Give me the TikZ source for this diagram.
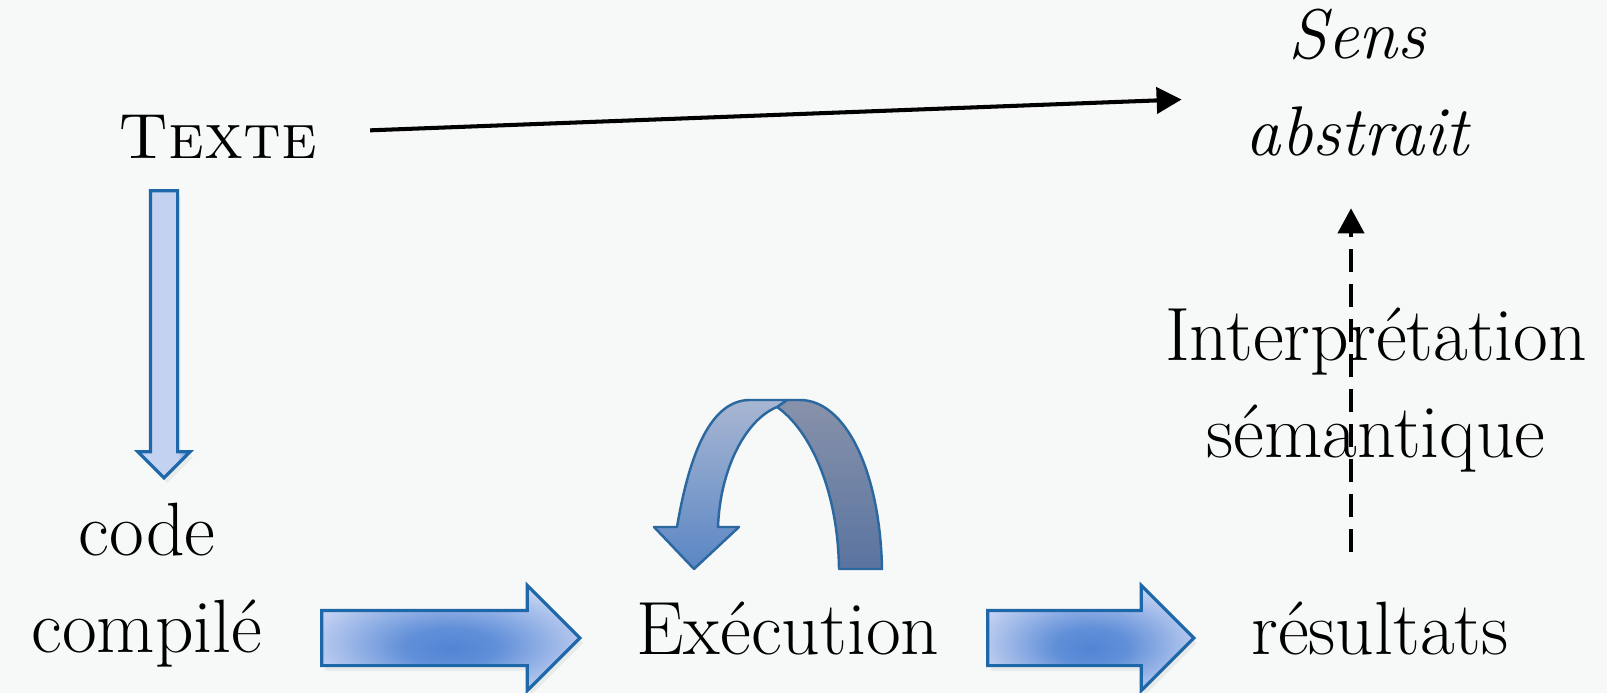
\documentclass[tikz,border=0pt]{standalone}
\usepackage{tikz}
\usetikzlibrary{
    arrows.meta,
    positioning,
    shapes.arrows,
    shadows
}

\definecolor{paper}{RGB}{247,248,248}
\definecolor{arrowlight}{RGB}{196,210,242}
\definecolor{arrowdark}{RGB}{80,132,212}
\definecolor{arrowline}{RGB}{30,104,170}
\definecolor{curvlight}{RGB}{168,182,210}
\definecolor{curvblue}{RGB}{90,134,196}
\definecolor{curvgray}{RGB}{136,146,170}
\definecolor{curvdark}{RGB}{90,116,160}
\definecolor{curvline}{RGB}{44,104,160}

\pgfdeclarehorizontalshading{tipshaft}{100bp}{
    color(0bp)=(arrowlight); color(63bp)=(arrowlight);
    color(70bp)=(arrowdark!55!arrowlight); color(75bp)=(arrowdark);
    color(100bp)=(arrowdark)}
\pgfdeclareradialshading{blockglow}{\pgfpoint{0bp}{-5bp}}{
    color(0bp)=(arrowdark); color(9bp)=(arrowdark!85!arrowlight);
    color(20bp)=(arrowdark!35!arrowlight); color(28bp)=(arrowlight);
    color(50bp)=(arrowlight)}

\begin{document}
\begin{tikzpicture}[x=0.1mm, y=-0.1mm,
    lbl/.style={
        font=\fontsize{21.5}{27.6}\selectfont,
        inner sep=1pt,
        align=center
    },
    blockarrow/.style={
        single arrow,
        draw=arrowline,
        line width=0.9pt,
        inner xsep=0pt,
        single arrow tip angle=90,
        drop shadow={opacity=0.12, shadow xshift=0.3mm, shadow yshift=-0.5mm}
    },
    hblock/.style={
        blockarrow,
        shading=blockglow,
        inner ysep=2.6mm,
        single arrow head extend=2.5mm
    },
    vblock/.style={
        blockarrow,
        shading=tipshaft,
        rotate=-90,
        inner ysep=1.2mm,
        single arrow head extend=1.25mm
    },
    thinarrow/.style={-{Triangle[length=2.5mm, width=2.6mm]}, line width=1.15pt, black},
    dasharrow/.style={thinarrow, dash pattern=on 2.3mm off 1.2mm},
    loopband/.style={draw=curvline, line width=0.7pt, line join=round}
]

\fill[paper] (0,0) rectangle (1607,693);
\useasboundingbox (0,0) rectangle (1607,693);

% ===== TOP ROW =====
\node[lbl, font=\fontsize{18.2}{24}\selectfont, anchor=base] (texte) at (218,159) {\textsc{Texte}};
\node[lbl, font=\fontsize{20}{27.6}\selectfont\itshape] (sens) at (1357,83) {Sens\\abstrait};

\draw[thinarrow] ([xshift=4.85mm, yshift=0.7mm]texte.east) -- ([xshift=-6mm, yshift=-1.65mm]sens.west);

% ===== BOTTOM ROW =====
\node[lbl] (code) at (147,585) {code\\compilé};
\node[lbl, anchor=base] (exec) at (788,654) {Exécution};
\node[lbl, anchor=base] (resultats) at (1380,654) {résultats};
\node[lbl] (interp) at (1376,390) {Interprétation\\sémantique};

% block arrows
\node[vblock, minimum height=28.7mm] (compil) at (164,327.5) {};
\node[hblock, minimum height=25.8mm] (lance) at (437,638) {};
\node[hblock, minimum height=20.6mm] (sortie) at (1077,638) {};

% loop over Execution
\path[loopband, top color=curvgray, bottom color=curvdark]
    (777,407) -- (787,400) -- (800,400)
    .. controls (845,400) and (880,470) .. (882,569)
    -- (839,569)
    .. controls (838,490) and (810,430) .. (777,407) -- cycle;
\path[loopband, top color=curvlight, bottom color=curvblue]
    (677,527) .. controls (690,450) and (712,400) .. (750,400)
    -- (787,400) -- (777,407)
    .. controls (745,420) and (720,470) .. (718,527)
    -- (739,527) -- (694,569) -- (654,527) -- cycle;

% semantic interpretation
\coordinate (dashfoot) at ([xshift=-2.9mm]resultats.north);
\draw[dasharrow, shorten <=4.5mm, shorten >=4.75mm] (dashfoot) -- (dashfoot |- sens.south);

\end{tikzpicture}
\end{document}
